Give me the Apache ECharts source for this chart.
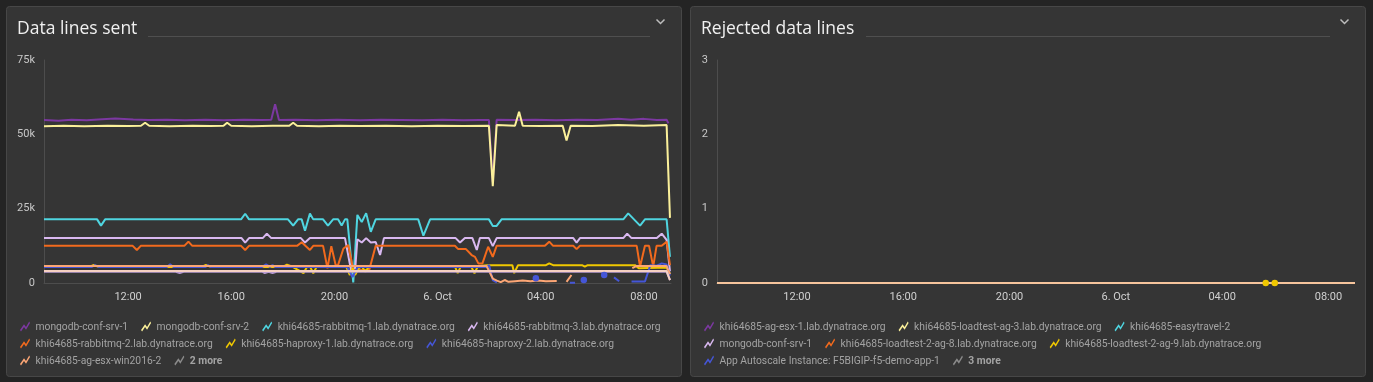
<!DOCTYPE html>
<html><head><meta charset="utf-8">
<script src="https://cdn.jsdelivr.net/npm/echarts@6/dist/echarts.min.js"></script>
<style>html,body{margin:0;padding:0;background:#242424;}#c{width:1373px;height:382px;}</style>
</head><body><div id="c"></div>
<script>
// ---------- tick labels (x in hours since 5 Oct 00:00) ----------
const tickHours = [12, 16, 20, 24, 28, 32];
const tickLabels = ['12:00', '16:00', '20:00', '6. Oct', '04:00', '08:00'];
const leftYTicks = [0, 25, 50, 75];          // thousands
const rightYTicks = [0, 1, 2, 3];

// ---------- left chart: Data lines sent (values in thousands) ----------
const leftNames = ['mongodb-conf-srv-1', 'mongodb-conf-srv-2', 'khi64685-rabbitmq-1.lab.dynatrace.org',
  'khi64685-rabbitmq-3.lab.dynatrace.org', 'khi64685-rabbitmq-2.lab.dynatrace.org',
  'khi64685-haproxy-1.lab.dynatrace.org', 'khi64685-haproxy-2.lab.dynatrace.org', 'khi64685-ag-esx-win2016-2'];
const leftMore = '2 more';

const sentConfSrv1 = [[8.74,54.8],[9.3,54.6],[9.8,54.9],[10.4,54.7],[11.0,55.1],[11.5,55.3],[12.2,55.0],[12.8,54.8],[13.5,54.9],[14.2,54.7],[15.0,54.9],[15.7,54.7],[16.5,54.9],[17.2,54.8],[17.55,54.9],[17.7,60.1],[17.85,54.8],[18.5,54.9],[19.3,54.7],[20.1,54.9],[21.0,54.7],[21.8,54.9],[22.6,54.8],[23.4,54.7],[24.2,54.9],[25.0,54.7],[25.6,54.8],[25.99,54.8],[26.14,34.0],[26.29,54.9],[27.0,54.8],[27.8,54.9],[28.6,54.7],[29.4,54.9],[30.2,54.8],[31.0,55.2],[31.5,54.9],[32.0,55.2],[32.5,54.8],[32.88,54.9],[32.95,53.7]];
const sentConfSrv2 = [[8.74,52.7],[9.5,52.9],[10.3,52.7],[11.2,52.9],[12.0,52.8],[12.5,52.9],[12.66,53.9],[12.82,52.9],[13.6,52.7],[14.5,52.9],[15.2,52.8],[15.7,52.9],[15.84,53.9],[16.0,52.9],[16.8,52.7],[17.6,52.9],[18.25,52.9],[18.4,53.9],[18.55,52.9],[19.4,52.7],[20.2,52.9],[21.0,52.8],[22.0,52.9],[23.0,52.7],[24.0,52.9],[25.0,52.8],[25.99,52.9],[26.14,32.6],[26.29,53.1],[27.0,52.9],[27.16,57.6],[27.3,52.9],[28.0,52.8],[28.85,52.9],[29.0,47.9],[29.16,52.9],[30.0,52.8],[31.0,53.1],[32.0,52.9],[32.88,53.1],[33.01,21.9]];
const sentRabbit1 = [[8.74,21.4],[10.8,21.4],[10.95,19.3],[11.11,21.4],[16.38,21.4],[16.54,23.3],[16.69,21.4],[18.2,21.4],[18.4,19.3],[18.59,21.4],[18.73,21.4],[18.86,17.6],[19.05,23.4],[19.18,21.4],[19.56,21.4],[19.75,19.3],[19.95,21.4],[20.14,21.4],[20.28,19.3],[20.41,21.4],[20.5,21.4],[20.73,0.2],[20.89,22.9],[21.06,20.5],[21.23,23.5],[21.41,17.2],[21.6,21.4],[23.25,21.4],[23.45,15.9],[23.71,21.4],[25.99,21.4],[26.14,19.2],[26.29,19.2],[26.48,21.4],[31.2,21.4],[31.39,23.4],[31.85,19.3],[32.04,21.4],[32.88,21.4],[33.01,8.8]];
const sentRabbit3 = [[8.74,15.1],[16.4,15.1],[16.54,13.6],[16.69,15.1],[17.22,15.1],[17.38,16.6],[17.55,15.1],[18.7,15.1],[18.86,13.6],[19.05,15.1],[20.41,15.1],[20.65,4.0],[20.8,4.0],[20.89,14.7],[21.06,13.6],[21.23,15.1],[21.41,13.6],[21.6,13.8],[21.77,9.4],[21.92,15.1],[24.7,15.1],[24.87,13.6],[25.06,15.1],[25.35,15.1],[25.52,11.1],[25.64,15.1],[25.99,15.1],[26.14,12.4],[26.29,15.1],[29.26,15.1],[29.39,13.6],[29.52,15.1],[31.2,15.1],[31.35,16.6],[31.52,15.1],[32.5,15.1],[32.69,16.6],[32.88,14.5],[33.01,3.9]];
const sentRabbit2 = [[8.74,12.5],[12.18,12.5],[12.34,11.1],[12.49,12.5],[14.18,12.5],[14.34,13.9],[14.49,12.5],[16.38,12.5],[16.54,11.1],[16.69,12.5],[18.55,12.5],[18.73,13.7],[19.05,11.1],[19.18,12.5],[19.56,12.5],[19.73,4.9],[19.88,12.4],[20.05,6.0],[20.14,6.0],[20.35,11.6],[20.54,12.8],[20.73,4.4],[21.35,4.4],[21.6,12.5],[24.67,12.5],[24.8,11.4],[25.1,11.4],[25.32,9.4],[25.45,8.8],[25.58,6.6],[25.74,6.6],[25.96,12.2],[26.14,8.8],[26.29,12.5],[28.16,12.5],[28.33,13.9],[28.48,12.5],[29.26,12.5],[29.39,11.4],[29.52,12.5],[31.72,12.5],[31.85,5.5],[32.04,12.5],[32.2,12.5],[32.36,5.5],[32.49,12.5],[32.69,12.5],[32.88,13.9],[33.01,6.0]];
const sentHaproxy1 = [[8.74,5.4],[10.5,5.4],[10.67,6.1],[10.85,5.4],[14.85,5.4],[15.02,6.1],[15.2,5.4],[18.0,5.4],[18.16,6.2],[18.35,5.6],[18.8,3.3],[18.95,5.6],[19.05,5.6],[19.18,3.3],[19.32,5.6],[20.45,5.6],[20.6,2.7],[20.7,5.0],[20.8,2.7],[20.95,5.0],[21.06,5.6],[21.2,3.8],[21.35,5.6],[24.67,5.6],[24.78,3.3],[24.9,5.6],[25.3,5.6],[25.43,3.3],[25.56,5.6],[25.92,6.0],[26.9,6.0],[26.97,3.3],[27.12,6.0],[28.2,6.0],[28.33,6.6],[28.48,6.0],[29.6,6.0],[29.71,5.5],[29.82,6.0],[31.65,6.0],[31.8,5.0],[32.88,5.2],[33.01,3.0]];
const sentHaproxy2 = [[8.74,5.4],[10.6,5.4],[10.72,6.0],[10.85,5.4],[13.5,5.4],[13.63,6.3],[13.76,5.4],[15.0,5.4],[15.1,6.0],[15.2,5.4],[17.2,5.4],[17.35,6.3],[17.5,5.4],[17.6,6.0],[17.7,5.4],[20.5,5.4],[20.7,2.0],[20.9,5.4],[25.9,5.4],[26.0,6.0],[26.14,1.0],[26.3,0.2],[26.4,null],[27.81,1.6],[27.9,null],[29.0,null],[29.13,0.1],[29.33,0.1],[29.45,null],[29.67,1.0],[29.8,null],[30.46,2.7],[30.6,null],[30.84,1.9],[31.04,0.6],[31.2,null],[31.52,0.5],[32.04,0.5],[32.25,6.0],[32.5,5.8],[32.69,6.6],[32.88,6.2],[33.01,2.5]];
const sentEsxWin = [[8.74,5.7],[25.9,5.7],[26.14,1.5],[26.3,0.8],[26.45,0.3],[26.6,1.0],[26.75,0.4],[27.0,0.6],[27.3,0.8],[27.6,0.6],[27.9,0.8],[28.2,0.6],[28.62,0.7],[28.75,null],[29.0,0.4],[29.19,2.7],[29.3,null],[31.45,null],[31.55,5.0],[31.7,5.7],[32.88,5.7],[33.01,3.0]];
const sentMoreA = [[8.74,3.8],[13.85,3.8],[14.0,3.3],[14.15,3.8],[17.2,3.8],[17.3,3.3],[17.45,3.8],[17.6,3.3],[17.75,3.8],[32.88,3.8],[33.01,1.0]];
const sentMoreB = [[8.74,4.0],[32.88,4.0],[33.01,1.0]];

// ---------- right chart: Rejected data lines ----------
const rightNames = ['khi64685-ag-esx-1.lab.dynatrace.org', 'khi64685-loadtest-ag-3.lab.dynatrace.org', 'khi64685-easytravel-2',
  'mongodb-conf-srv-1', 'khi64685-loadtest-2-ag-8.lab.dynatrace.org', 'khi64685-loadtest-2-ag-9.lab.dynatrace.org',
  'App Autoscale Instance: F5BIGIP-f5-demo-app-1'];
const rightMore = '3 more';
const rejEsx1 = [[8.99,0],[33.0,0]];
const rejLoad3 = [[8.99,0],[33.0,0]];
const rejEasy2 = [[8.99,0],[33.0,0]];
const rejConf1 = [[8.99,0],[33.0,0]];
const rejLoad8 = [[8.99,0],[33.0,0]];
const rejLoad9 = [[29.64,0],[29.81,null],[29.98,0]];
const rejF5 = [[8.99,0],[33.0,0]];
const rejMore = [[8.99,0],[33.0,0]];

// ---------- styling ----------
const leftColors = ['#7c38a1', '#fbf09a', '#4fd5e0', '#d9b8f0', '#f26a1d', '#f0c800', '#4556d7', '#fca675'];
const moreColor = '#8a8a8a';
const FONT = 'Roboto';

function isolatedFlags(data) {
  return data.map((d, i) => d[1] != null &&
    (i === 0 || data[i - 1][1] == null) && (i === data.length - 1 || data[i + 1][1] == null));
}
function line(name, color, data, idx, z) {
  const iso = isolatedFlags(data);
  return {
    type: 'line', name, data, xAxisIndex: idx, yAxisIndex: idx, z: z || 2,
    showSymbol: true, showAllSymbol: true, symbol: 'circle',
    symbolSize: (v, p) => iso[p.dataIndex] ? 6.5 : 0,
    lineStyle: { width: 2, color }, itemStyle: { color, borderWidth: 0 },
    emphasis: { disabled: true }, animation: false, silent: true
  };
}

const leftSeriesData = [sentConfSrv1, sentConfSrv2, sentRabbit1, sentRabbit3, sentRabbit2, sentHaproxy1, sentHaproxy2, sentEsxWin];
const rightSeriesData = [rejEsx1, rejLoad3, rejEasy2, rejConf1, rejLoad8, rejLoad9, rejF5];
const rightColors = ['#7c38a1', '#fbf09a', '#4fd5e0', '#d9b8f0', '#f26a1d', '#f0c800', '#4556d7'];

const series = [];
leftNames.forEach((n, i) => series.push(line(n, leftColors[i], leftSeriesData[i], 0)));
series.push(line('__moreA', '#b79ad0', sentMoreA, 0));
series.push(line('__moreB', '#f6d0c2', sentMoreB, 0));
series.push(line(leftMore, moreColor, [], 0));
rightNames.forEach((n, i) => series.push(line('R:' + n, rightColors[i], rightSeriesData[i], 1, i === 5 ? 5 : 2)));
series.push(line('R:__more', '#f5c49c', rejMore, 1, 3));
series.push(line('R:' + rightMore, moreColor, [], 1));

const ICON = 'path://M0,8.6 L4,2.8 L6,5.6 L9.2,0 L10,1.4 L6,8.2 L4,5.4 L1,10 Z';
function legendItems(names, colors, more, prefix) {
  const arr = names.map((n, i) => ({ name: prefix + n, itemStyle: { color: colors[i] } }));
  arr.push({ name: prefix + more, itemStyle: { color: moreColor } });
  return arr;
}
function legend(left, width, names, colors, more, prefix) {
  return {
    left, top: 320, width, orient: 'horizontal', selectedMode: false,
    icon: ICON, itemWidth: 11, itemHeight: 10, itemGap: 4, padding: 0,
    itemStyle: { borderWidth: 0 },
    data: legendItems(names, colors, more, prefix),
    formatter: (n) => { const s = n.replace(/^R:/, ''); return /more$/.test(s) ? '{b|' + s + '}' : s; },
    textStyle: {
      color: '#a3a3a3', fontFamily: FONT, fontSize: 10.3, lineHeight: 12, padding: [1, 9, 0, 0],
      rich: { b: { fontWeight: 'bold', color: '#a3a3a3', fontFamily: FONT, fontSize: 10.3, lineHeight: 12 } }
    }
  };
}

function xAxis(idx, min, max, dotted) {
  return {
    type: 'value', gridIndex: idx, min, max,
    axisLine: { show: true, onZero: false, lineStyle: { color: dotted ? '#6a6a6a' : '#4d4d4d', width: 1, type: dotted ? 'dotted' : 'solid' } },
    axisTick: { show: false }, splitLine: { show: false },
    axisLabel: { customValues: tickHours, formatter: (v) => tickLabels[tickHours.indexOf(v)],
      color: '#d0d0d0', fontFamily: FONT, fontSize: 11, margin: 9 }
  };
}
function yAxis(idx, ticks, fmt) {
  return {
    type: 'value', gridIndex: idx, min: ticks[0], max: ticks[ticks.length - 1], interval: ticks[1] - ticks[0],
    axisLine: { show: true, lineStyle: { color: '#4d4d4d', width: 1 } },
    axisTick: { show: false }, splitLine: { show: false },
    axisLabel: { formatter: fmt, color: '#c8c8c8', fontFamily: FONT, fontSize: 11, margin: 9 }
  };
}

const graphics = [
  { type: 'rect', z: -10, shape: { x: 6.5, y: 6.5, width: 675, height: 370, r: 3 }, style: { fill: '#353535', stroke: '#474747', lineWidth: 1 } },
  { type: 'rect', z: -10, shape: { x: 690.5, y: 6.5, width: 675, height: 370, r: 3 }, style: { fill: '#353535', stroke: '#474747', lineWidth: 1 } },
  { type: 'text', z: 10, style: { x: 17, y: 29, text: 'Data lines sent', fill: '#f0f0f0', font: '17.5px "Open Sans"', verticalAlign: 'middle' } },
  { type: 'text', z: 10, style: { x: 701, y: 29, text: 'Rejected data lines', fill: '#f0f0f0', font: '17.5px "Open Sans"', verticalAlign: 'middle' } },
  { type: 'line', z: 10, shape: { x1: 148, y1: 36.5, x2: 650, y2: 36.5 }, style: { stroke: '#4f4f4f', lineWidth: 1 } },
  { type: 'line', z: 10, shape: { x1: 866, y1: 36.5, x2: 1330, y2: 36.5 }, style: { stroke: '#4f4f4f', lineWidth: 1 } },
  { type: 'polyline', z: 10, shape: { points: [[656.5, 19.5], [660.5, 23.5], [664.5, 19.5]] }, style: { stroke: '#bdbdbd', lineWidth: 1.5, fill: null } },
  { type: 'polyline', z: 10, shape: { points: [[1340.5, 19.5], [1344.5, 23.5], [1348.5, 19.5]] }, style: { stroke: '#bdbdbd', lineWidth: 1.5, fill: null } }
];

const chart = echarts.init(document.getElementById('c'), null, { renderer: 'canvas' });
chart.setOption({
  backgroundColor: '#242424',
  animation: false,
  textStyle: { fontFamily: FONT },
  grid: [
    { left: 44, top: 60, width: 627, height: 223 },
    { left: 717, top: 60, width: 638, height: 223 }
  ],
  xAxis: [xAxis(0, 8.74, 33.05, false), xAxis(1, 8.99, 33.0, true)],
  yAxis: [
    yAxis(0, leftYTicks, (v) => v === 0 ? '0' : v + 'k'),
    yAxis(1, rightYTicks, (v) => String(v))
  ],
  legend: [
    legend(20, 662, leftNames, leftColors, leftMore, ''),
    legend(704, 600, rightNames, rightColors, rightMore, 'R:')
  ],
  graphic: { elements: graphics },
  series
});
</script></body></html>
